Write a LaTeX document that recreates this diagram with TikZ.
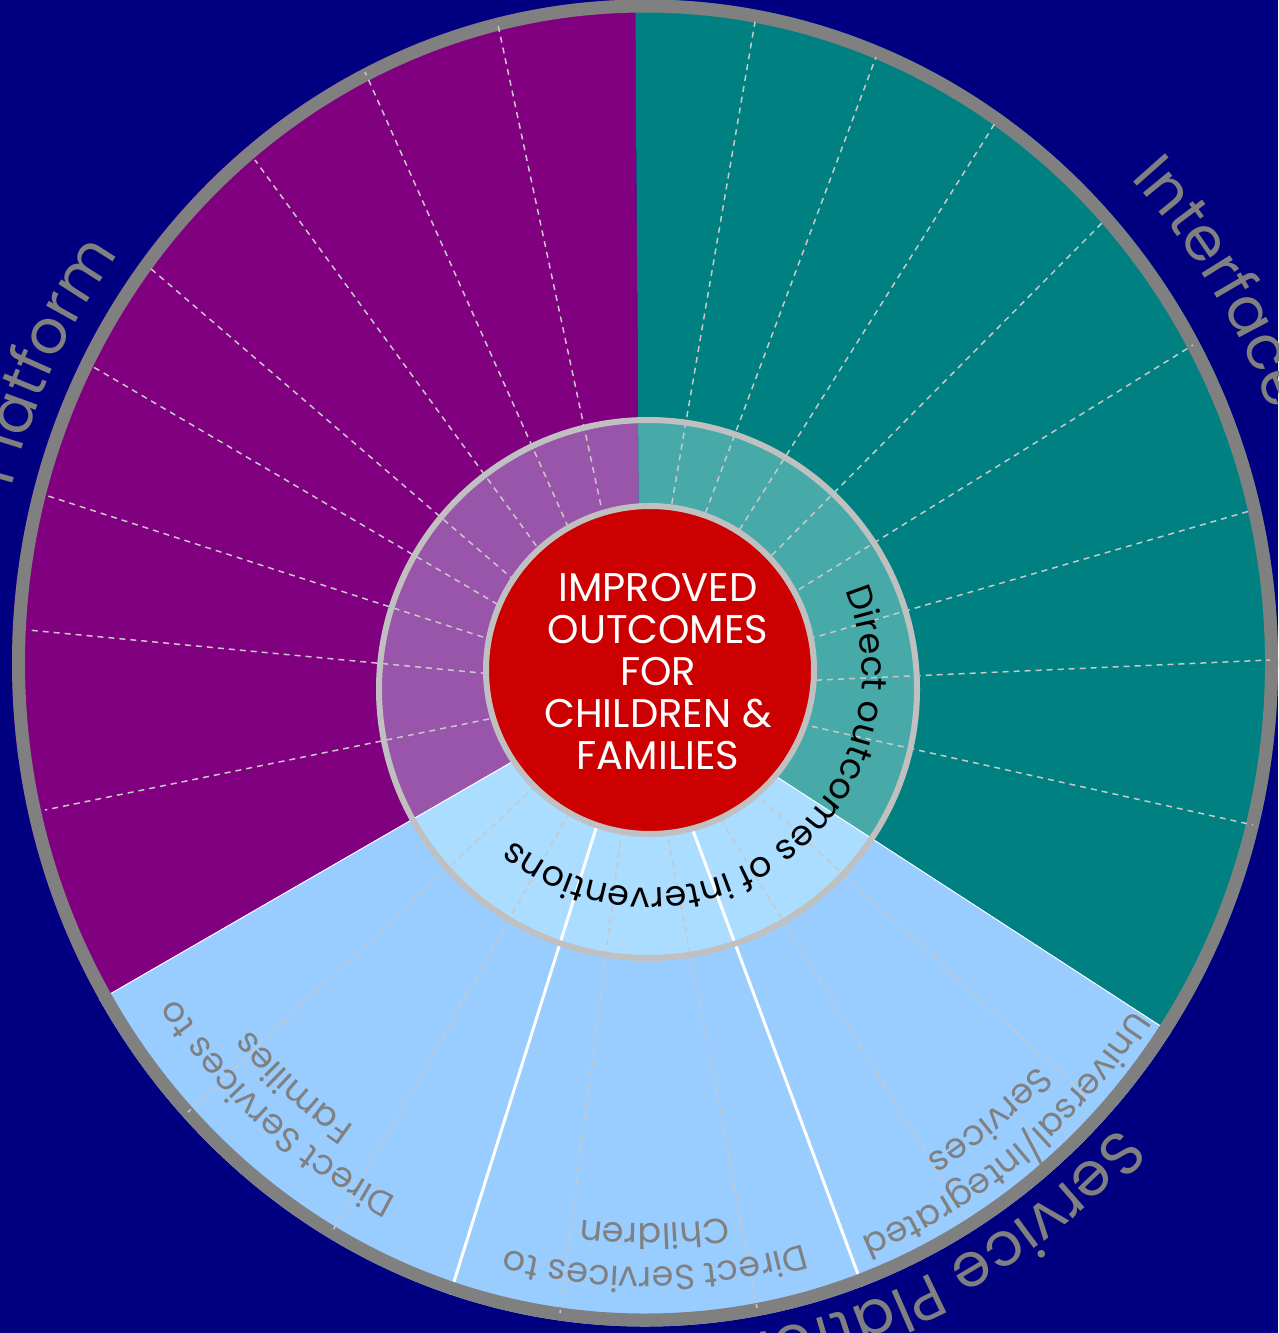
\documentclass[tikz,border=0pt]{standalone}
\usepackage{fontspec}
\setmainfont{Poppins}
\usetikzlibrary{calc, decorations.text}

\definecolor{backnavy}{HTML}{000080}
\definecolor{ringgray}{HTML}{808080}
\definecolor{rimgray}{HTML}{C0C0C0}
\definecolor{dashgray}{HTML}{C8C8C8}
\definecolor{plum}{HTML}{800080}
\definecolor{plumlight}{HTML}{9955AA}
\definecolor{sea}{HTML}{008080}
\definecolor{sealight}{HTML}{48AAA8}
\definecolor{sky}{HTML}{99CCFF}
\definecolor{skylight}{HTML}{AADDFF}
\definecolor{goalred}{HTML}{CC0000}

\newcommand\ringfont{\fontsize{35}{35}\selectfont}
\newcommand\platformfont{\fontsize{61}{61}\selectfont}
\newcommand\servicefont{\fontsize{35}{35}\selectfont}

\tikzset{
  dashline/.style={draw=dashgray, line width=1.5pt, dash pattern=on 6pt off 5pt},
  splitline/.style={draw=white, line width=3pt},
  edgeline/.style={draw=white, line width=1pt},
}

\begin{document}
\begin{tikzpicture}[x=1pt,y=1pt]
\useasboundingbox (0,0) rectangle (1278,-1333);
\clip (0,0) rectangle (1278,-1333);
\fill[backnavy] (0,0) rectangle (1278,-1333);
\coordinate (pc) at (640,-688);
\coordinate (oc) at (645,-663);
\coordinate (ic) at (648,-689);
\coordinate (rc) at (650,-670);
\coordinate (tc) at (648,-674);
% Fill the three sectors
\begin{scope}
\clip (oc) ellipse [x radius=633, y radius=663.5];
\fill[plum] (pc) -- ++(90.4:1500) arc [start angle=90.4, end angle=210, radius=1500] -- cycle;
\fill[sea] (pc) -- ++(-33:1500) arc [start angle=-33, end angle=90.4, radius=1500] -- cycle;
\fill[sky] (pc) -- ++(210:1500) arc [start angle=210, end angle=327, radius=1500] -- cycle;
% Lighter inner band
\begin{scope}
\clip (ic) circle [radius=271];
\fill[plumlight] (pc) -- ++(90.4:400) arc [start angle=90.4, end angle=210, radius=400] -- cycle;
\fill[sealight] (pc) -- ++(-33:400) arc [start angle=-33, end angle=90.4, radius=400] -- cycle;
\fill[skylight] (pc) -- ++(210:400) arc [start angle=210, end angle=327, radius=400] -- cycle;
\end{scope}
% White borders of the service part
\draw[edgeline] (pc) -- ++(210:800);
\draw[edgeline] (pc) -- ++(-33:800);
\draw[splitline] (pc) -- ++(252.6:800);
\draw[splitline] (pc) -- ++(290.4:800);
\end{scope}
% Outer ring
\draw[ringgray, line width=13pt] (oc) ellipse [x radius=626.5, y radius=657];
% Dashed spokes
\foreach \px/\py in {498/25, 365/72, 255/160, 150/268, 90/365, 45/495, 28/630, 45/810,
  755/22, 876/57, 997/120, 1103/222, 1193/345, 1253/510, 1270/660, 1253/825,
  188/1112, 332/1232, 560/1313, 757/1308, 967/1220, 1088/1098}
  \draw[dashline] (pc) -- (\px,-\py);
% Inner ring and red disc
\draw[rimgray, line width=6pt] (ic) circle [radius=269];
\draw[fill=goalred, draw=rimgray, line width=6pt] (rc) circle [radius=164];
\node[text=white, align=center, font=\fontsize{40}{42}\selectfont] (goal) at (658,-672)
  {IMPROVED\\OUTCOMES\\FOR\\CHILDREN \&\\FAMILIES};
% Text round the inner ring
{\ringfont
\path[decorate, decoration={text along path, text align=center,
  text={Direct outcomes of interventions}}]
  ($(tc)+(22:214)$) arc [start angle=22, end angle=-128, radius=214];
}
% Platform names
{\platformfont
\path[decorate, decoration={text along path, text align=left, text color=ringgray,
  text={Interface}}]
  ($(oc)+(43.6:670 and 702)$) arc [start angle=43.6, end angle=-40, x radius=670, y radius=702];
\path[decorate, decoration={text along path, text align=right, text color=ringgray,
  text={Platform}}]
  ($(oc)+(230:655 and 688)$) arc [start angle=230, end angle=143.5, x radius=655, y radius=688];
\path[decorate, decoration={text along path, text align=left, text color=ringgray,
  text={Service Platform}}]
  ($(oc)+(-43:647 and 680)$) arc [start angle=-43, end angle=-200, x radius=647, y radius=680];
}
% Service labels
{\servicefont
\path[decorate, decoration={text along path, text align=center, text color=ringgray,
  text={Direct Services to}}]
  ($(oc)+(259.4:567 and 595)$) arc [start angle=259.4, end angle=199.4, x radius=567, y radius=595];
\path[decorate, decoration={text along path, text align=center, text color=ringgray,
  text={Families}}]
  ($(oc)+(259.4:528 and 554)$) arc [start angle=259.4, end angle=199.4, x radius=528, y radius=554];
\path[decorate, decoration={text along path, text align=center, text color=ringgray,
  text={Direct Services to}}]
  ($(oc)+(301:578 and 604)$) arc [start angle=301, end angle=241, x radius=578, y radius=604];
\path[decorate, decoration={text along path, text align=center, text color=ringgray,
  text={Children}}]
  ($(oc)+(301:539 and 561)$) arc [start angle=301, end angle=241, x radius=539, y radius=561];
\path[decorate, decoration={text along path, text align=center, text color=ringgray,
  text={Universal/Integrated}}]
  ($(oc)+(-21.5:589 and 618)$) arc [start angle=-21.5, end angle=-81.5, x radius=589, y radius=618];
\path[decorate, decoration={text along path, text align=center, text color=ringgray,
  text={Services}}]
  ($(oc)+(-22:548 and 576)$) arc [start angle=-22, end angle=-82, x radius=548, y radius=576];
}
\end{tikzpicture}
\end{document}
